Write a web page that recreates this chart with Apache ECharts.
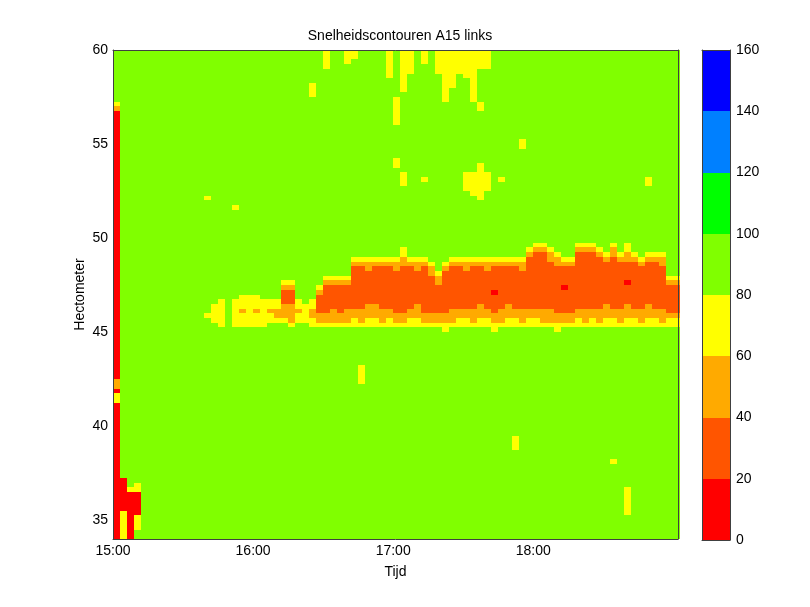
<!DOCTYPE html>
<html>
<head>
<meta charset="utf-8">
<script src="https://cdn.jsdelivr.net/npm/echarts@6/dist/echarts.min.js"></script>
<style>html,body{margin:0;padding:0;background:#fff}#c{width:810px;height:607px}</style>
</head>
<body>
<div id="c"></div>
<script>
// ---- data ----
// time columns: 3-minute cells starting 15:00 (minutes after 15:00)
const timeStepMin = 3;
const timeCats = Array.from({length: 81}, (_, i) => i * timeStepMin + timeStepMin / 2);
// hectometer rows: 0.25 hm cells from 34 to 60 (top row first in speedRows)
const hmStep = 0.25;
const hmCats = Array.from({length: 104}, (_, i) => 60 - hmStep * i - hmStep / 2);
// speed class per cell (0: 0-20, 1: 20-40, 2: 40-60, 3: 60-80, 4: 80-100 km/h), row 0 = 60 hm
const speedOfClass = [10, 30, 50, 70, 90];
const speedRows = [
"4444444444 4444444444 4444444444 3443344443 4334343333 3333444444 4444444444 4444444444 4",
"4444444444 4444444444 4444444444 3443344443 4334343333 3333444444 4444444444 4444444444 4",
"4444444444 4444444444 4444444444 3443444443 4334343333 3333444444 4444444444 4444444444 4",
"4444444444 4444444444 4444444444 3444444443 4334443333 3333444444 4444444444 4444444444 4",
"4444444444 4444444444 4444444444 4444444443 4334443333 3344444444 4444444444 4444444444 4",
"4444444444 4444444444 4444444444 4444444443 4344444334 3344444444 4444444444 4444444444 4",
"4444444444 4444444444 4444444444 4444444444 4344444334 4344444444 4444444444 4444444444 4",
"4444444444 4444444444 4444444434 4444444444 4344444334 4344444444 4444444444 4444444444 4",
"4444444444 4444444444 4444444434 4444444444 4344444344 4344444444 4444444444 4444444444 4",
"4444444444 4444444444 4444444434 4444444444 4444444344 4344444444 4444444444 4444444444 4",
"4444444444 4444444444 4444444444 4444444444 3444444344 4344444444 4444444444 4444444444 4",
"3444444444 4444444444 4444444444 4444444444 3444444444 4434444444 4444444444 4444444444 4",
"2444444444 4444444444 4444444444 4444444444 3444444444 4434444444 4444444444 4444444444 4",
"0444444444 4444444444 4444444444 4444444444 3444444444 4444444444 4444444444 4444444444 4",
"0444444444 4444444444 4444444444 4444444444 3444444444 4444444444 4444444444 4444444444 4",
"0444444444 4444444444 4444444444 4444444444 3444444444 4444444444 4444444444 4444444444 4",
"0444444444 4444444444 4444444444 4444444444 4444444444 4444444444 4444444444 4444444444 4",
"0444444444 4444444444 4444444444 4444444444 4444444444 4444444444 4444444444 4444444444 4",
"0444444444 4444444444 4444444444 4444444444 4444444444 4444444444 4444444444 4444444444 4",
"0444444444 4444444444 4444444444 4444444444 4444444444 4444444434 4444444444 4444444444 4",
"0444444444 4444444444 4444444444 4444444444 4444444444 4444444434 4444444444 4444444444 4",
"0444444444 4444444444 4444444444 4444444444 4444444444 4444444444 4444444444 4444444444 4",
"0444444444 4444444444 4444444444 4444444444 4444444444 4444444444 4444444444 4444444444 4",
"0444444444 4444444444 4444444444 4444444444 3444444444 4444444444 4444444444 4444444444 4",
"0444444444 4444444444 4444444444 4444444444 3444444444 4434444444 4444444444 4444444444 4",
"0444444444 4444444444 4444444444 4444444444 4444444444 4434444444 4444444444 4444444444 4",
"0444444444 4444444444 4444444444 4444444444 4344444444 3333444444 4444444444 4444444444 4",
"0444444444 4444444444 4444444444 4444444444 4344344444 3333434444 4444444444 4444443444 4",
"0444444444 4444444444 4444444444 4444444444 4344444444 3333444444 4444444444 4444443444 4",
"0444444444 4444444444 4444444444 4444444444 4444444444 3333444444 4444444444 4444444444 4",
"0444444444 4444444444 4444444444 4444444444 4444444444 4334444444 4444444444 4444444444 4",
"0444444444 4443444444 4444444444 4444444444 4444444444 4434444444 4444444444 4444444444 4",
"0444444444 4444444444 4444444444 4444444444 4444444444 4444444444 4444444444 4444444444 4",
"0444444444 4444444344 4444444444 4444444444 4444444444 4444444444 4444444444 4444444444 4",
"0444444444 4444444444 4444444444 4444444444 4444444444 4444444444 4444444444 4444444444 4",
"0444444444 4444444444 4444444444 4444444444 4444444444 4444444444 4444444444 4444444444 4",
"0444444444 4444444444 4444444444 4444444444 4444444444 4444444444 4444444444 4444444444 4",
"0444444444 4444444444 4444444444 4444444444 4444444444 4444444444 4444444444 4444444444 4",
"0444444444 4444444444 4444444444 4444444444 4444444444 4444444444 4444444444 4444444444 4",
"0444444444 4444444444 4444444444 4444444444 4444444444 4444444444 4444444444 4444444444 4",
"0444444444 4444444444 4444444444 4444444444 4444444444 4444444444 4444444444 4444444444 4",
"0444444444 4444444444 4444444444 4444444444 4444444444 4444444444 3344443334 4343444444 4",
"0444444444 4444444444 4444444444 4444444444 4344444444 4444444443 2234442223 4243444444 4",
"0444444444 4444444444 4444444444 4444444444 4344444444 4444444442 1123441112 3232343334 4",
"0444444444 4444444444 4444444444 4444333333 3233344433 3333333331 1122331111 2122232224 4",
"0444444444 4444444444 4444444444 4444222222 2222234322 2222222221 1112221111 1111121124 4",
"0444444444 4444444444 4444444444 4444112111 2112124211 2112111121 1111111111 1111111114 4",
"0444444444 4444444444 4444444444 4444111111 1111123111 1111111111 1111111111 1111111114 4",
"0444444444 4444444444 4444444444 3333111111 1111112111 1111111111 1111111111 1111111113 3",
"0444444444 4444444444 4444334444 2222111111 1111112111 1111111111 1111111111 1110111112 2",
"0444444444 4444444444 4444224443 1111111111 1111111111 1111111111 1111011111 1111111111 1",
"0444444444 4444444444 4444114442 1111111111 1111111111 1111011111 1111111111 1111111111 1",
"0444444444 4444444433 3444114441 1111111111 1111111111 1111111111 1111111111 1111111111 1",
"0444444444 4444434333 3333113431 1111111111 1111111111 1111111111 1111111111 1111111111 1",
"0444444444 4444334333 3333223331 1111112211 1112111111 1121112111 1111111111 2112112111 1",
"0444444444 4444334323 2322222321 1212222222 1122111122 2222122222 2221112222 2222222221 1",
"0444444444 4443334333 3332223322 2222222222 2222222222 2222222222 2222222222 2222222222 2",
"0444444444 4444334333 3333323332 2222323323 2233222223 3233223323 3222223232 3323323323 3",
"0444444444 4444434333 3344434433 3333333333 3333333333 3333333333 3333333333 3333333333 3",
"0444444444 4444444444 4444444444 4444444444 4444444344 4444344444 4443444444 4444444444 4",
"0444444444 4444444444 4444444444 4444444444 4444444444 4444444444 4444444444 4444444444 4",
"0444444444 4444444444 4444444444 4444444444 4444444444 4444444444 4444444444 4444444444 4",
"0444444444 4444444444 4444444444 4444444444 4444444444 4444444444 4444444444 4444444444 4",
"0444444444 4444444444 4444444444 4444444444 4444444444 4444444444 4444444444 4444444444 4",
"0444444444 4444444444 4444444444 4444444444 4444444444 4444444444 4444444444 4444444444 4",
"0444444444 4444444444 4444444444 4444444444 4444444444 4444444444 4444444444 4444444444 4",
"0444444444 4444444444 4444444444 4444444444 4444444444 4444444444 4444444444 4444444444 4",
"0444444444 4444444444 4444444444 4444434444 4444444444 4444444444 4444444444 4444444444 4",
"0444444444 4444444444 4444444444 4444434444 4444444444 4444444444 4444444444 4444444444 4",
"0444444444 4444444444 4444444444 4444434444 4444444444 4444444444 4444444444 4444444444 4",
"2444444444 4444444444 4444444444 4444434444 4444444444 4444444444 4444444444 4444444444 4",
"2444444444 4444444444 4444444444 4444444444 4444444444 4444444444 4444444444 4444444444 4",
"0444444444 4444444444 4444444444 4444444444 4444444444 4444444444 4444444444 4444444444 4",
"3444444444 4444444444 4444444444 4444444444 4444444444 4444444444 4444444444 4444444444 4",
"3444444444 4444444444 4444444444 4444444444 4444444444 4444444444 4444444444 4444444444 4",
"0444444444 4444444444 4444444444 4444444444 4444444444 4444444444 4444444444 4444444444 4",
"0444444444 4444444444 4444444444 4444444444 4444444444 4444444444 4444444444 4444444444 4",
"0444444444 4444444444 4444444444 4444444444 4444444444 4444444444 4444444444 4444444444 4",
"0444444444 4444444444 4444444444 4444444444 4444444444 4444444444 4444444444 4444444444 4",
"0444444444 4444444444 4444444444 4444444444 4444444444 4444444444 4444444444 4444444444 4",
"0444444444 4444444444 4444444444 4444444444 4444444444 4444444444 4444444444 4444444444 4",
"0444444444 4444444444 4444444444 4444444444 4444444444 4444444444 4444444444 4444444444 4",
"0444444444 4444444444 4444444444 4444444444 4444444444 4444444344 4444444444 4444444444 4",
"0444444444 4444444444 4444444444 4444444444 4444444444 4444444344 4444444444 4444444444 4",
"0444444444 4444444444 4444444444 4444444444 4444444444 4444444344 4444444444 4444444444 4",
"0444444444 4444444444 4444444444 4444444444 4444444444 4444444444 4444444444 4444444444 4",
"0444444444 4444444444 4444444444 4444444444 4444444444 4444444444 4444444444 4444444444 4",
"0444444444 4444444444 4444444444 4444444444 4444444444 4444444444 4444444444 4344444444 4",
"0444444444 4444444444 4444444444 4444444444 4444444444 4444444444 4444444444 4444444444 4",
"0444444444 4444444444 4444444444 4444444444 4444444444 4444444444 4444444444 4444444444 4",
"0444444444 4444444444 4444444444 4444444444 4444444444 4444444444 4444444444 4444444444 4",
"0044444444 4444444444 4444444444 4444444444 4444444444 4444444444 4444444444 4444444444 4",
"0043444444 4444444444 4444444444 4444444444 4444444444 4444444444 4444444444 4444444444 4",
"0033444444 4444444444 4444444444 4444444444 4444444444 4444444444 4444444444 4443444444 4",
"0000444444 4444444444 4444444444 4444444444 4444444444 4444444444 4444444444 4443444444 4",
"0000444444 4444444444 4444444444 4444444444 4444444444 4444444444 4444444444 4443444444 4",
"0000444444 4444444444 4444444444 4444444444 4444444444 4444444444 4444444444 4443444444 4",
"0000444444 4444444444 4444444444 4444444444 4444444444 4444444444 4444444444 4443444444 4",
"0300444444 4444444444 4444444444 4444444444 4444444444 4444444444 4444444444 4443444444 4",
"0303444444 4444444444 4444444444 4444444444 4444444444 4444444444 4444444444 4444444444 4",
"0303444444 4444444444 4444444444 4444444444 4444444444 4444444444 4444444444 4444444444 4",
"0303444444 4444444444 4444444444 4444444444 4444444444 4444444444 4444444444 4444444444 4",
"0304444444 4444444444 4444444444 4444444444 4444444444 4444444444 4444444444 4444444444 4",
"0304444444 4444444444 4444444444 4444444444 4444444444 4444444444 4444444444 4444444444 4"
];
// axis ticks / labels
const timeTickMinutes = [0, 60, 120, 180];
const timeTickLabels = ['15:00', '16:00', '17:00', '18:00'];
const timeMaxMinutes = 242;
const hmTicks = [35, 40, 45, 50, 55, 60];
const hmMin = 34, hmMax = 60;
// colour levels (colorbar)
const levelEdges = [0, 20, 40, 60, 80, 100, 120, 140, 160];
const levelColors = ['#ff0000', '#ff5500', '#ffaa00', '#ffff00', '#80ff00', '#00ff00', '#0080ff', '#0000ff'];
const levelMids = [10, 30, 50, 70, 90, 110, 130, 150];

// ---- build series data ----
const mainData = [];
speedRows.forEach((row, i) => {
  const s = row.replace(/ /g, '');
  for (let j = 0; j < s.length; j++) {
    mainData.push([timeCats[j], hmCats[i], speedOfClass[+s[j]]]);
  }
});
const cbData = levelMids.map(v => [0.5, v, v]);
const pieces = levelColors.map((c, i) => ({gte: levelEdges[i], lt: levelEdges[i + 1], color: c}));
const halfLevel = (levelEdges[1] - levelEdges[0]) / 2;

const FONT = 'Liberation Sans, Arial, Helvetica, sans-serif';
const txt = {fontFamily: FONT, fontSize: 14, color: '#000'};
const lineStyle = {color: '#404040', width: 1};
const bare = {axisTick: {show: false}, axisLabel: {show: false}, splitLine: {show: false}};

function cellRect(api, xa, ya, xb, yb) {
  const p0 = api.coord([xa, ya]);
  const p1 = api.coord([xb, yb]);
  const x0 = Math.round(Math.min(p0[0], p1[0])), x1 = Math.round(Math.max(p0[0], p1[0]));
  const y0 = Math.round(Math.min(p0[1], p1[1])), y1 = Math.round(Math.max(p0[1], p1[1]));
  return {type: 'rect', shape: {x: x0, y: y0, width: x1 - x0, height: y1 - y0},
          style: {fill: api.visual('color'), stroke: null}};
}

const chart = echarts.init(document.getElementById('c'), null, {renderer: 'canvas'});
chart.setOption({
  animation: false,
  backgroundColor: '#ffffff',
  title: {
    text: 'Snelheidscontouren A15 links',
    left: 395, top: 24, textAlign: 'center',
    textStyle: Object.assign({}, txt, {fontWeight: 'normal'})
  },
  grid: [
    {left: 113, top: 50, width: 565, height: 489},
    {left: 702, top: 50, width: 28, height: 490}
  ],
  visualMap: {type: 'piecewise', show: false, dimension: 2, seriesIndex: [0, 1], pieces: pieces},
  xAxis: [
    {type: 'value', gridIndex: 0, min: 0, max: timeMaxMinutes, position: 'bottom', z: 10,
     axisLine: {show: true, onZero: false, lineStyle: lineStyle}, axisTick: {show: false}, splitLine: {show: false},
     axisLabel: Object.assign({}, txt, {customValues: timeTickMinutes, margin: 5,
       formatter: v => timeTickLabels[timeTickMinutes.indexOf(v)]}),
     name: 'Tijd', nameLocation: 'middle', nameGap: 26, nameTextStyle: txt},
    Object.assign({type: 'value', gridIndex: 0, min: 0, max: timeMaxMinutes, position: 'top', z: 10,
     axisLine: {show: true, onZero: false, lineStyle: lineStyle}}, bare),
    Object.assign({type: 'value', gridIndex: 1, min: 0, max: 1, position: 'bottom', z: 10,
     axisLine: {show: true, onZero: false, lineStyle: lineStyle}}, bare),
    Object.assign({type: 'value', gridIndex: 1, min: 0, max: 1, position: 'top', z: 10,
     axisLine: {show: true, onZero: false, lineStyle: lineStyle}}, bare)
  ],
  yAxis: [
    {type: 'value', gridIndex: 0, min: hmMin, max: hmMax, position: 'left', z: 10,
     axisLine: {show: true, onZero: false, lineStyle: lineStyle}, axisTick: {show: false}, splitLine: {show: false},
     axisLabel: Object.assign({}, txt, {customValues: hmTicks, margin: 5}),
     name: 'Hectometer', nameLocation: 'middle', nameGap: 26, nameMoveOverlap: false, nameTextStyle: txt},
    Object.assign({type: 'value', gridIndex: 0, min: hmMin, max: hmMax, position: 'right', z: 10,
     axisLine: {show: true, onZero: false, lineStyle: lineStyle}}, bare),
    Object.assign({type: 'value', gridIndex: 1, min: levelEdges[0], max: levelEdges[levelEdges.length - 1], position: 'left', z: 10,
     axisLine: {show: true, onZero: false, lineStyle: lineStyle}}, bare),
    {type: 'value', gridIndex: 1, min: levelEdges[0], max: levelEdges[levelEdges.length - 1], interval: 20, position: 'right', z: 10,
     axisLine: {show: true, onZero: false, lineStyle: lineStyle}, axisTick: {show: false}, splitLine: {show: false},
     axisLabel: Object.assign({}, txt, {margin: 6})}
  ],
  series: [
    {type: 'custom', xAxisIndex: 0, yAxisIndex: 0, data: mainData, clip: true, silent: true,
     encode: {x: 0, y: 1},
     renderItem: (params, api) => cellRect(api,
       api.value(0) - timeStepMin / 2, api.value(1) + hmStep / 2,
       api.value(0) + timeStepMin / 2, api.value(1) - hmStep / 2)},
    {type: 'custom', xAxisIndex: 2, yAxisIndex: 3, data: cbData, clip: true, silent: true,
     encode: {x: 0, y: 1},
     renderItem: (params, api) => cellRect(api, 0, api.value(1) + halfLevel, 1, api.value(1) - halfLevel)}
  ]
});
</script>
</body>
</html>
